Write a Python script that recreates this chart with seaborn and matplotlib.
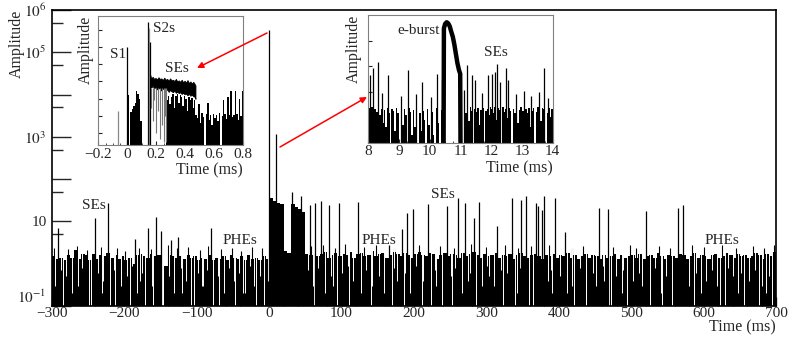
import numpy as np
import pandas as pd
import seaborn as sns
import matplotlib.pyplot as plt
from matplotlib.ticker import FixedLocator, FixedFormatter, NullFormatter
from matplotlib.patches import FancyArrowPatch

W, H = 789, 344

# ---- main trace, 5 ms bins starting at -300 ms ----
base_t0, base_dt = -300, 5
base_amp = [1.5, 1.3, 1.4, 1.2, 1.6, 1.4, 2.1, 1.3, 1.7, 1.6,
            1.2, 1.7, 1.3, 1.6, 1.5, 1.8, 1.4, 1.6, 1.3, 1.5,
            1.2, 1.4, 1.0, 1.6, 1.7, 1.5, 1.4, 1.7, 1.5, 1.6,
            0.0, 0.9, 1.6, 1.5, 1.4, 1.5, 1.3, 1.6, 1.4, 1.5,
            1.2, 1.4, 1.3, 1.6, 1.2, 1.4, 1.3, 1.5, 1.2, 1.6,
            1.4, 1.3, 1.5, 1.2, 1.6, 1.3, 1.4, 1.2, 1.5, 1.3,
            35, 31, 28, 26, 2.0, 1.8, 26, 22, 20, 17, 1.7,
            1.6, 1.8, 1.5, 1.7, 1.9, 1.4, 1.6, 1.8, 1.5, 1.7,
            1.6, 1.9, 1.4, 1.7, 1.8, 1.5, 1.6, 2.0, 1.5, 1.7,
            1.8, 1.4, 1.6, 1.9, 1.7, 1.5, 1.8, 1.6, 1.4, 1.7,
            1.9, 1.6, 1.5, 1.8, 1.7, 1.3, 1.6, 1.8, 1.5, 1.7,
            1.6, 1.4, 1.8, 1.5, 1.7, 1.9, 1.6, 1.4, 1.7, 1.5,
            1.6, 1.8, 1.4, 1.6, 1.5, 1.7, 1.3, 1.6, 1.8, 1.5,
            1.4, 1.6, 1.7, 1.5, 1.3, 1.6, 1.5, 1.7, 1.4, 1.6,
            1.5, 1.8, 1.4, 1.6, 1.3, 1.5, 1.7, 1.4, 1.6, 1.5,
            1.3, 1.6, 1.4, 1.5, 1.7, 1.3, 1.6, 1.4, 1.5, 1.6,
            1.4, 1.7, 1.3, 1.5, 1.6, 1.4, 1.8, 1.5, 1.3, 1.6,
            1.5, 1.4, 1.7, 1.6, 1.3, 1.5, 1.8, 1.4, 1.6, 1.5,
            1.3, 1.6, 1.7, 1.4, 1.5, 1.8, 1.6, 1.4, 1.7, 1.5,
            1.6, 1.4, 1.5, 1.8, 1.6, 1.3, 1.7, 1.5, 1.9]

# single spikes (S2, e-burst, SEs)
spike_t = [-292, -241, -222, -186, -168, -157, -150, -135, -126, -81,
           0, 10, 31, 44, 56, 63, 72, 83, 97, 122,
           165, 184, 191, 198, 219, 246, 261, 270, 283, 290,
           315, 335, 348, 355, 368, 371, 377, 379, 395, 408,
           456, 468, 520, 565, 571]
spike_amp = [7, 12, 27, 3.9, 7, 13, 5.8, 3.6, 4.2, 7,
             3.4e5, 1150, 50, 40, 24, 27, 30, 25, 27, 29,
             2.8, 6.5, 16, 20, 26, 23, 35, 28, 12, 29,
             8, 35, 32, 40, 28, 23, 19, 39, 35, 5.6,
             21, 20, 18, 21, 24]

# small noise pulses poking out of the baseline
grass_t = [-297, -278, -266, -252, -233, -210, -199, -180, -163, -140,
           -128, -112, -96, -84, -66, -52, -39, -24, -10,
           58, 74, 91, 105, 131, 148, 172, 207, 236, 255,
           279, 300, 325, 344, 362, 387, 418, 433, 475, 498,
           507, 538, 553, 584, 600, 625, 645, 668, 683, 697]
grass_amp = [2.4, 2.2, 2.6, 2.1, 2.5, 2.3, 2.0, 2.4, 2.2, 2.7,
             2.3, 2.5, 2.1, 2.6, 2.2, 2.4, 2.0, 2.5, 2.3,
             2.6, 2.8, 2.4, 2.9, 2.5, 2.7, 2.3, 2.8, 2.6, 2.4,
             2.9, 2.5, 2.7, 2.3, 2.6, 2.8, 2.4, 2.6, 2.5, 2.7,
             2.3, 2.6, 2.4, 2.8, 2.5, 2.7, 2.3, 2.6, 2.4, 2.7]

# empty / low samples in the baseline
dip_t = [-296, -288, -285, -281, -273, -264, -258, -249, -246, -237, -231, -229,
         -220, -214, -213, -205, -197, -192, -190, -183, -178, -176, -171, -162,
         -160, -138, -131, -122, -120, -115, -108, -104, -99, -93, -91, -86,
         -77, -71, -70, -63, -55, -49, -47, -42, -36, -33, -27, -21, -18, -13,
         -7, -2, 53, 61, 62, 68, 77, 86, 88, 93, 101, 109, 110, 116, 127, 134,
         140, 142, 151, 158, 169, 173, 176, 186, 187, 194, 203, 211, 212, 224,
         229, 231, 239, 251, 252, 257, 266, 275, 277, 286, 294, 301, 303, 311,
         320, 323, 328, 340, 342, 346, 359, 364, 385, 389, 391, 401, 412, 418,
         421, 429, 437, 438, 447, 452, 461, 462, 470, 472, 479, 487, 489, 494,
         503, 511, 515, 526, 533, 541, 542, 548, 557, 572, 580, 587, 590, 596,
         604, 611, 618, 622, 629, 634, 640, 647, 652, 656, 663, 671, 676, 680,
         686, 691, 694]
dip_amp = [0.3, 0.7, 0.1, 0.5, 0.2, 0.3, 0.8, 0.1, 0.1, 0.6, 0.2, 0.4,
           0.1, 0.7, 0.1, 0.3, 0.5, 0.1, 0.9, 0.2, 0.4, 0.6, 0.1, 0.3,
           0.1, 0.5, 0.2, 0.8, 0.2, 0.4, 0.1, 0.1, 0.6, 0.3, 0.3, 0.7,
           0.1, 0.5, 0.1, 0.2, 0.8, 0.4, 0.1, 0.6, 0.2, 0.2, 0.9, 0.3, 0.1, 0.5,
           0.1, 0.4, 0.7, 0.3, 0.1, 0.8, 0.2, 0.5, 0.3, 0.1, 0.6, 0.9, 0.1, 0.4,
           0.2, 0.7, 0.1, 0.3, 0.5, 0.2, 0.1, 0.8, 0.4, 0.1, 0.6, 0.2,
           0.9, 0.1, 0.4, 0.1, 0.7, 0.3, 0.1, 0.5, 0.1, 0.8, 0.2, 0.4, 0.6, 0.1,
           0.3, 0.9, 0.5, 0.3, 0.7, 0.1, 0.6, 0.1, 0.2, 0.8, 0.1, 0.1, 0.4, 0.7,
           0.2, 0.5, 0.2, 0.3, 0.1, 0.8, 0.1, 0.1, 0.6, 0.3, 0.9, 0.4, 0.1, 0.1,
           0.5, 0.2, 0.7, 0.1, 0.4, 0.6, 0.3, 0.1, 0.8, 0.2, 0.1, 0.5, 0.1, 0.9,
           0.3, 0.1, 0.6, 0.2, 0.4, 0.7, 0.3, 0.1, 0.1, 0.8, 0.5, 0.2, 0.6, 0.1,
           0.4, 0.7, 0.1, 0.3, 0.2, 0.5, 0.1]

# ---- inset 1, 0.01 ms bins from -0.2 ms ----
in1_t0, in1_dt = -0.2, 0.01
in1_amp = [0] * 20 + \
          [16, 0, 1.8, 2.5, 4, 6, 30, 20, 10, 0.5,
           0, 0, 0, 0, 0, 0, 0,
           0, 0, 0, 0, 0, 0, 0, 0, 0, 0,
           8, 15, 5, 12, 20, 3, 14, 18, 6, 16,
           12, 4, 15, 10, 2, 13, 9, 11, 3, 8,
           1.2, 0.8, 5, 0.4, 1.5, 0.9, 0, 1.3, 6, 0.6, 1.1, 0.3, 1.4,
           0.8, 1.2, 0.5, 1.5, 0, 1.0, 8, 1.3, 0.7, 12,
           1.1, 30, 0.9, 1.2, 28, 1.4, 0.6, 10, 1.0, 28]
in1_spk_t = [-0.062, 0.0, 0.145, 0.15, 0.155]
in1_spk_amp = [1.9, 1e4, 2.8e5, 1.2e5, 2e4]
in1_spk_col = ['#888888', 'black', 'black', '#888888', 'black']
# S2 tail / SE plateau (noisy band)
pl_t = [0.155, 0.165, 0.175, 0.185, 0.195, 0.205, 0.215, 0.225, 0.235, 0.245,
        0.255, 0.265, 0.275, 0.285, 0.295, 0.305, 0.315, 0.325, 0.335, 0.345,
        0.355, 0.365, 0.375, 0.385, 0.395, 0.405, 0.415, 0.425, 0.435, 0.445,
        0.455, 0.465, 0.47]
pl_hi = [300, 150, 185, 140, 160, 130, 175, 140, 150, 120,
         165, 125, 140, 110, 150, 115, 125, 105, 140, 100,
         115, 95, 125, 90, 110, 85, 120, 80, 100, 75,
         95, 70, 60]
pl_lo = [60, 45, 55, 40, 48, 35, 42, 38, 30, 40,
         33, 28, 36, 25, 32, 27, 24, 30, 22, 26,
         21, 24, 19, 22, 18, 20, 16, 19, 15, 17,
         14, 13, 10]
st_t = [0.165, 0.175, 0.185, 0.2, 0.215, 0.225, 0.24, 0.25, 0.26, 0.265]
st_lo = [3, 0.5, 8, 0.1, 2, 0.05, 0.3, 0.03, 1, 0.03]

# ---- inset 2, 0.05 ms bins from 8 ms ----
in2_t0, in2_dt = 8.0, 0.05
in2_amp = [2.2, 1.8, 2.5, 0, 2.0, 1.6, 2.4, 1.2, 2.1, 0.6,
           1.9, 0.4, 2.3, 1.5, 0, 2.0, 1.7, 0.3, 2.2, 1.4,
           0, 1.8, 0.5, 2.0, 1.2, 0, 2.3, 1.6, 0.2, 1.9,
           0.4, 2.1, 0, 1.5, 0.3, 1.8, 0.8, 0, 2.0, 0.5,
           0, 1.6, 0.2, 0, 2.2, 0.6, 0, 1.9, 0, 0,
           0, 0, 0, 0, 0, 0, 0, 0, 0, 0,
           0, 0, 2.3, 1.5, 2.0, 0.7, 2.4, 1.8, 0, 2.1,
           1.6, 2.2, 0.5, 1.9, 2.3, 0, 1.7, 2.0, 1.2, 2.4,
           2.0, 1.5, 2.4, 0.8, 2.2, 1.9, 0, 2.5, 1.6, 2.1,
           0.9, 2.3, 1.8, 0, 2.0, 1.4, 2.2, 0.6, 1.9, 2.4,
           1.7, 0, 2.1, 1.5, 2.3, 0.4, 1.8, 2.2, 0, 1.6,
           2.4, 1.9, 0.7, 2.2, 2.0, 0, 1.5, 2.3, 1.0, 2.0]
in2_spk_t = [8.05, 8.16, 8.33, 8.45, 8.65, 9.05, 9.30, 9.55, 9.74, 10.05,
             10.23, 10.39, 11.12, 11.20, 11.37, 11.48, 11.70, 11.91, 12.02, 12.13,
             12.18, 12.29, 12.48, 12.56, 12.80, 13.05, 13.30, 13.55, 13.73, 13.86]
in2_spk_amp = [45, 81, 148, 9, 44, 7, 69, 8, 24, 6,
               51, 28, 12, 110, 44, 28, 9, 44, 51, 60,
               126, 24, 81, 28, 8, 11, 7, 10, 81, 5.4]
burst_t = [10.45, 10.46, 10.50, 10.55, 10.60, 10.65, 10.70, 10.75, 10.80,
           10.85, 10.90, 10.95, 10.99, 11.00]
burst_amp = [0.1, 3000, 4500, 5200, 4700, 3600, 2200, 1400, 700,
             300, 130, 70, 50, 0.1]


def fx(px):
    return px / W


def fy(py):
    return 1 - py / H


def trace(ax, t0, dt, amp):
    # draw a binned waveform as a weighted histogram
    n = len(amp)
    centers = t0 + dt * (np.arange(n) + 0.5)
    df = pd.DataFrame({'t': centers, 'amp': amp})
    sns.histplot(data=df, x='t', weights='amp', binwidth=dt,
                 binrange=(t0, t0 + dt * n), element='bars',
                 fill=True, color='black', alpha=1, linewidth=0, ax=ax)
    ax.set_xlabel('')
    ax.set_ylabel('')


sns.set_style('ticks')
plt.rcParams['font.family'] = ['Liberation Serif', 'DejaVu Serif']
plt.rcParams['mathtext.fontset'] = 'stix'
FS = 11

fig = plt.figure(figsize=(W / 100, H / 100), dpi=100)

# ---------------- main panel ----------------
ax = fig.add_axes([fx(52), fy(306), (776 - 52) / W, (306 - 10) / H])
ax.set_yscale('log')
trace(ax, base_t0, base_dt, base_amp)
ax.vlines(grass_t, 0.1, grass_amp, colors='black', lw=0.8)
ax.vlines(dip_t, dip_amp, 3.2, colors='white', lw=0.7)
ax.vlines(spike_t, 0.1, spike_amp, colors='black', lw=0.9)
ax.set_xlim(-300, 700)
ax.set_ylim(0.1, 1e6)
ax.set_xticks(range(-300, 701, 100))
ax.xaxis.set_minor_locator(FixedLocator(range(-300, 701, 20)))
ymaj = [1e-1, 1, 10, 1e2, 1e3, 1e4, 1e5, 1e6]
ylab = ['$10^{-1}$', '', '10', '', '$10^{3}$', '', '$10^{5}$', '$10^{6}$']
ax.yaxis.set_major_locator(FixedLocator(ymaj))
ax.yaxis.set_major_formatter(FixedFormatter(ylab))
ax.yaxis.set_minor_locator(FixedLocator([0.5, 5, 50, 500, 5e3, 5e4, 5e5]))
ax.yaxis.set_minor_formatter(NullFormatter())
ax.tick_params(axis='y', which='major', direction='in', length=14, width=1.0,
               labelsize=FS, pad=4)
ax.tick_params(axis='y', which='minor', direction='in', length=8, width=1.0)
ax.tick_params(axis='x', which='major', direction='in', length=6.5, width=1.0,
               labelsize=FS, pad=1)
ax.tick_params(axis='x', which='minor', direction='in', length=3.5, width=0.8)
for s in ax.spines.values():
    s.set_visible(True)
    s.set_linewidth(1.2)
    s.set_color('black')
# lowest label sits just above the corner, as in ROOT
ax.yaxis.get_major_ticks()[0].label1.set_va('bottom')

fig.text(fx(17), fy(10), 'Amplitude', rotation=90, ha='center', va='top', fontsize=FS + 0.5)
fig.text(fx(776), fy(319), 'Time (ms)', ha='right', va='top', fontsize=FS + 0.5)
for txt, px, py in [('SEs', 94, 206), ('PHEs', 240, 241), ('PHEs', 379, 241),
                    ('SEs', 443, 195), ('PHEs', 722, 241)]:
    fig.text(fx(px), fy(py), txt, ha='center', va='center', fontsize=FS)


def inset_style(a):
    for s in a.spines.values():
        s.set_visible(True)
        s.set_linewidth(0.8)
        s.set_color('#808080')
    a.tick_params(axis='both', which='both', direction='in', labelsize=FS, pad=2)
    a.tick_params(axis='y', which='major', length=3, labelleft=False)
    a.tick_params(axis='y', which='minor', length=0)
    a.tick_params(axis='x', which='major', length=3)
    a.tick_params(axis='x', which='minor', length=1.5)
    a.set_facecolor('white')


# ---------------- inset 1 ----------------
a1 = fig.add_axes([fx(98.3), fy(145), 145 / W, 129 / H])
a1.set_yscale('log')
trace(a1, in1_t0, in1_dt, in1_amp)
a1.fill_between(pl_t, pl_lo, pl_hi, color='black', lw=0.6)
a1.vlines(st_t, st_lo, 40, colors='#777777', lw=0.8)
a1.vlines(in1_spk_t, 0.02, in1_spk_amp, colors=in1_spk_col, lw=0.9)
a1.set_xlim(-0.2, 0.8)
a1.set_ylim(10 ** -1.67, 10 ** 5.78)
a1.yaxis.set_major_locator(FixedLocator([0.1, 1, 10, 100, 1e3, 1e4, 1e5]))
a1.yaxis.set_minor_locator(FixedLocator([]))
a1.xaxis.set_major_locator(FixedLocator([-0.2, 0, 0.2, 0.4, 0.6, 0.8]))
a1.xaxis.set_major_formatter(FixedFormatter(['\u22120.2', '0', '0.2', '0.4', '0.6', '0.8']))
a1.xaxis.set_minor_locator(FixedLocator(np.arange(-0.2, 0.81, 0.05)))
inset_style(a1)
fig.text(fx(86), fy(16), 'Amplitude', rotation=90, ha='center', va='top', fontsize=FS + 0.5)
fig.text(fx(243), fy(170), 'Time (ms)', ha='right', va='center', fontsize=FS + 0.5)
for txt, px, py in [('S1', 118, 55), ('S2s', 164, 28), ('SEs', 177, 68)]:
    fig.text(fx(px), fy(py), txt, ha='center', va='center', fontsize=FS)

# ---------------- inset 2 ----------------
a2 = fig.add_axes([fx(368.3), fy(142.7), 184.4 / W, 127.7 / H])
a2.set_yscale('log')
trace(a2, in2_t0, in2_dt, in2_amp)
a2.vlines(in2_spk_t, 0.1, in2_spk_amp, colors='black', lw=0.9)
sns.lineplot(x=burst_t, y=burst_amp, sort=False, estimator=None,
             color='black', lw=3.2, ax=a2)
a2.set_xlim(8, 14)
a2.set_ylim(0.1, 1e4)
a2.yaxis.set_major_locator(FixedLocator([1, 10, 100, 1e3]))
a2.yaxis.set_minor_locator(FixedLocator([]))
a2.xaxis.set_major_locator(FixedLocator(range(8, 15)))
a2.xaxis.set_minor_locator(FixedLocator(np.arange(8, 14.01, 0.25)))
inset_style(a2)
fig.text(fx(354), fy(15), 'Amplitude', rotation=90, ha='center', va='top', fontsize=FS + 0.5)
fig.text(fx(553), fy(168), 'Time (ms)', ha='right', va='center', fontsize=FS + 0.5)
for txt, px, py in [('e-burst', 419, 30), ('SEs', 496, 53)]:
    fig.text(fx(px), fy(py), txt, ha='center', va='center', fontsize=FS)

# red arrows from the main trace to the zoomed windows
for (x0, y0), (x1, y1) in [((267, 33), (197, 68)), ((280, 147), (367, 97))]:
    arr = FancyArrowPatch((fx(x0), fy(y0)), (fx(x1), fy(y1)), transform=fig.transFigure,
                          arrowstyle='-|>', mutation_scale=9, color='red', lw=1.1,
                          shrinkA=0, shrinkB=0)
    fig.add_artist(arr)

fig.savefig('out.png', dpi=100)
